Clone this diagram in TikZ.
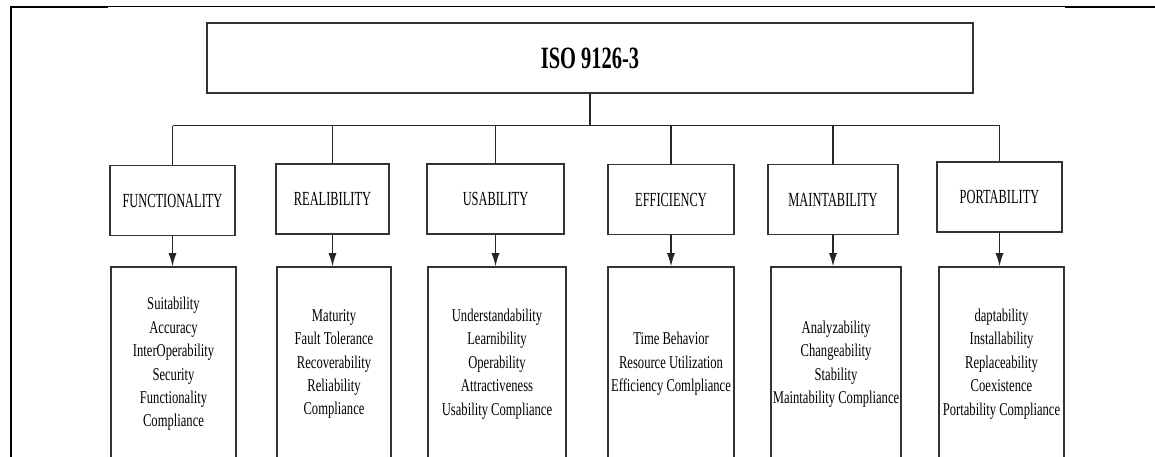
\documentclass[tikz,border=0pt]{standalone}
\usepackage{fontspec}
\setmainfont{Liberation Serif}
\newfontfamily\titlefont[FakeStretch=0.66]{Liberation Serif}
\newfontfamily\headfont[FakeStretch=0.62]{Liberation Serif}
\newfontfamily\itemfont[FakeStretch=0.70]{Liberation Serif}
\usetikzlibrary{arrows.meta}

\begin{document}
\begin{tikzpicture}[>={Latex[length=13pt,width=8pt]}, x=1pt, y=-1pt,
	box/.style={draw=black!80, line width=1.6pt, inner sep=0pt},
	head/.style={box, minimum height=70pt, font=\headfont\fontsize{20}{24}\selectfont},
	list/.style={box, minimum height=194pt, align=center, font=\itemfont\fontsize{18}{23.4}\selectfont}]
	%\draw [help lines] (0,0) grid (1155,457);
	\useasboundingbox (0,0) rectangle (1155,457);
	\clip (0,0) rectangle (1155,457);
	\draw [line width=1pt] (10,7) -- (1155,7);
	\draw [line width=2pt] (10,7) -- (108,7);
	\draw [line width=2pt] (1065,7) -- (1155,7);
	\draw [line width=2pt] (10.5,6) -- (10.5,457);

	\node [box, minimum width=766pt, minimum height=70pt, font=\titlefont\bfseries\fontsize{31}{36}\selectfont] (iso) at (590,58) {ISO 9126-3};

	\node [head, minimum width=125pt] (func) at (172.5,200.5) {FUNCTIONALITY};
	\node [head, minimum width=113pt] (reli) at (332.5,199) {REALIBILITY};
	\node [head, minimum width=137pt] (usab) at (495.5,199) {USABILITY};
	\node [head, minimum width=126pt] (effi) at (671,199.5) {EFFICIENCY};
	\node [head, minimum width=130pt] (main) at (833,199.5) {MAINTABILITY};
	\node [head, minimum width=125pt] (port) at (999.5,197) {PORTABILITY};

	\node [list, minimum width=125pt] (funcl) at (173.5,364) {Suitability\\Accuracy\\InterOperability\\Security\\Functionality\\Compliance};
	\node [list, minimum width=114pt] (relil) at (334,364) {Maturity\\Fault Tolerance\\Recoverability\\Reliability\\Compliance};
	\node [list, minimum width=138pt] (usabl) at (497,364) {Understandability\\Learnibility\\Operability\\Attractiveness\\Usability Compliance};
	\node [list, minimum width=126pt] (effil) at (671,364) {Time Behavior\\Resource Utilization\\Efficiency Comlpliance};
	\node [list, minimum width=130pt] (mainl) at (836,364) {Analyzability\\Changeability\\Stability\\Maintability Compliance};
	\node [list, minimum width=125pt] (portl) at (1001.5,364) {daptability\\Installability\\Replaceability\\Coexistence\\Portability Compliance};

	\draw [line width=1.1pt, black!85] (iso.south) -- ++(0,32) coordinate (bus);
	\draw [line width=1.1pt, black!85] (func.north |- bus) -- (port.north |- bus);
	\foreach \n in {func,reli,usab,effi,main,port} {
		\draw [line width=1.1pt, black!85] (\n.north |- bus) -- (\n.north);
		\draw [->, line width=1.1pt, black!85] (\n.south) -- (\n.south |- \n l.north);
	}
\end{tikzpicture}
\end{document}
